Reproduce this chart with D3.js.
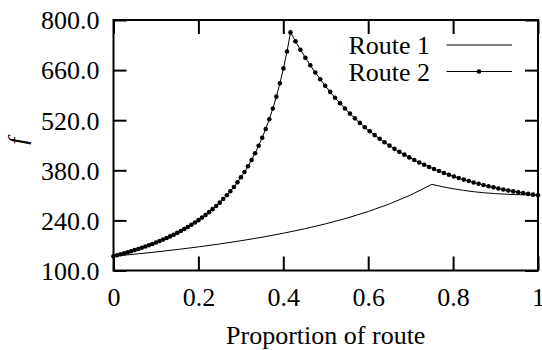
<!DOCTYPE html>
<html>
<head>
<meta charset="utf-8">
<script src="https://cdn.jsdelivr.net/npm/d3@7/dist/d3.min.js"></script>
<style>
  html, body { margin: 0; padding: 0; background: #fff; }
  svg { display: block; }
</style>
</head>
<body>
<svg id="chart" width="542" height="350"></svg>
<script>
// Route 2: sampled on both sides of its peak
const route2X = [
  0, 0.0083, 0.0167, 0.0250, 0.0334, 0.0417, 0.0500, 0.0584, 0.0667, 0.0751,
  0.0834, 0.0917, 0.1001, 0.1084, 0.1168, 0.1251, 0.1334, 0.1418, 0.1501, 0.1585,
  0.1668, 0.1751, 0.1835, 0.1918, 0.2002, 0.2085, 0.2168, 0.2252, 0.2335, 0.2419,
  0.2502, 0.2585, 0.2669, 0.2752, 0.2836, 0.2919, 0.3002, 0.3086, 0.3169, 0.3253,
  0.3336, 0.3419, 0.3503, 0.3586, 0.3670, 0.3753, 0.3836, 0.3920, 0.4003, 0.4087,
  0.4170,
  0.4287, 0.4403, 0.4520, 0.4636, 0.4753, 0.4870, 0.4986, 0.5103, 0.5219, 0.5336,
  0.5453, 0.5569, 0.5686, 0.5802, 0.5919, 0.6036, 0.6152, 0.6269, 0.6385, 0.6502,
  0.6619, 0.6735, 0.6852, 0.6968, 0.7085, 0.7202, 0.7318, 0.7435, 0.7551, 0.7668,
  0.7785, 0.7901, 0.8018, 0.8134, 0.8251, 0.8368, 0.8484, 0.8601, 0.8717, 0.8834,
  0.8951, 0.9067, 0.9184, 0.9300, 0.9417, 0.9534, 0.9650, 0.9767, 0.9883, 1.0
];
const route2Y = [
  140.0, 142.6, 145.3, 148.0, 150.9, 153.9, 157.0, 160.1, 163.5, 166.9,
  170.5, 174.2, 178.1, 182.1, 186.3, 190.7, 195.3, 200.1, 205.1, 210.4,
  215.9, 221.6, 227.7, 234.0, 240.7, 247.8, 255.2, 263.1, 271.4, 280.2,
  289.6, 299.6, 310.1, 321.5, 333.5, 346.5, 360.4, 375.3, 391.4, 408.9,
  427.8, 448.4, 470.9, 495.5, 522.6, 552.5, 585.8, 623.0, 664.7, 711.8,
  765.4,
  740.4, 717.0, 694.7, 673.6, 653.5, 634.5, 616.4, 599.2, 582.8, 567.3,
  552.5, 538.5, 525.2, 512.5, 500.5, 489.1, 478.3, 468.0, 458.2, 448.9,
  440.0, 431.6, 423.7, 416.1, 408.9, 402.0, 395.5, 389.4, 383.5, 377.9,
  372.6, 367.6, 362.8, 358.3, 354.0, 349.9, 346.0, 342.3, 338.8, 335.5,
  332.3, 329.3, 326.4, 323.7, 321.1, 318.7, 316.3, 314.1, 312.0, 310.0
];

// Route 1
const route1X = [
  0, 0.05, 0.10, 0.15, 0.20, 0.25, 0.30, 0.35, 0.40, 0.45, 0.50, 0.55, 0.60, 0.65, 0.70, 0.75,
  0.775, 0.80, 0.825, 0.85, 0.875, 0.90, 0.925, 0.95, 0.975, 1.0
];
const route1Y = [
  139.9, 145.6, 151.8, 158.6, 166.0, 174.1, 183.1, 193.0, 204.1, 216.5, 230.5, 246.4, 264.8, 286.0, 311.0, 340.8,
  334.0, 328.5, 323.8, 320.0, 317.0, 314.8, 313.2, 312.0, 311.2, 310.5
];

const seriesNames = ["Route 1", "Route 2"];
const xTicks = [0, 0.2, 0.4, 0.6, 0.8, 1];
const xTickLabels = ["0", "0.2", "0.4", "0.6", "0.8", "1"];
const yTicks = [100, 240, 380, 520, 660, 800];
const yTickLabels = ["100.0", "240.0", "380.0", "520.0", "660.0", "800.0"];
const xTitle = "Proportion of route";
const yTitle = "f";

const FONT = "Liberation Serif";
const fontSize = 26;

const svg = d3.select("#chart");
const L = 113.5, R = 538, T = 20, B = 270.5;
const x = d3.scaleLinear().domain([0, 1]).range([L, R]);
const y = d3.scaleLinear().domain([100, 800]).range([B, T]);

// Axes with inward ticks on all four sides
const gx = svg.append("g").attr("transform", `translate(0,${B})`)
  .call(d3.axisBottom(x).tickValues(xTicks).tickSize(-14).tickPadding(22)
    .tickFormat((d, i) => xTickLabels[i]));
const gxTop = svg.append("g").attr("transform", `translate(0,${T})`)
  .call(d3.axisTop(x).tickValues(xTicks).tickSize(-14).tickFormat(""));
const gy = svg.append("g").attr("transform", `translate(${L},0)`)
  .call(d3.axisLeft(y).tickValues(yTicks).tickSize(-13).tickPadding(14)
    .tickFormat((d, i) => yTickLabels[i]));
const gyRight = svg.append("g").attr("transform", `translate(${R},0)`)
  .call(d3.axisRight(y).tickValues(yTicks).tickSize(-13).tickFormat(""));

[gx, gxTop, gy, gyRight].forEach(g => {
  g.attr("font-family", null).attr("font-size", null);
  g.select(".domain").remove();
  g.selectAll(".tick line").attr("stroke", "#000").attr("stroke-width", 2);
  g.selectAll("text").attr("fill", "#000")
    .style("font-family", FONT).style("font-size", fontSize + "px");
});
gx.selectAll(".tick text").attr("dy", "0.71em").attr("y", 17);
gy.selectAll(".tick text").attr("dy", "0.34em");

// Frame
svg.append("rect")
  .attr("x", L).attr("y", T).attr("width", R - L).attr("height", B - T)
  .attr("fill", "none").attr("stroke", "#000").attr("stroke-width", 2);

// Titles
svg.append("text")
  .attr("x", (L + R) / 2).attr("y", 344)
  .attr("text-anchor", "middle")
  .style("font-family", FONT).style("font-size", fontSize + "px")
  .text(xTitle);
svg.append("text")
  .attr("transform", `translate(26,${(T + B) / 2 - 4}) rotate(-90)`)
  .attr("text-anchor", "middle")
  .style("font-family", FONT).style("font-size", fontSize + "px").style("font-style", "italic")
  .text(yTitle);

const line = d3.line().x(d => x(d[0])).y(d => y(d[1]));
const r1 = route1X.map((v, i) => [v, route1Y[i]]);
const r2 = route2X.map((v, i) => [v, route2Y[i]]);

svg.append("path").datum(r1)
  .attr("d", line).attr("fill", "none").attr("stroke", "#000").attr("stroke-width", 1);
svg.append("path").datum(r2)
  .attr("d", line).attr("fill", "none").attr("stroke", "#000").attr("stroke-width", 1);
svg.append("g").selectAll("circle").data(r2).join("circle")
  .attr("cx", d => x(d[0])).attr("cy", d => y(d[1])).attr("r", 2.3).attr("fill", "#000");

// Legend
const legend = svg.append("g");
const legendRows = [{ name: seriesNames[0], cy: 45, dot: false }, { name: seriesNames[1], cy: 71.5, dot: true }];
legendRows.forEach(rw => {
  legend.append("text").attr("x", 430).attr("y", rw.cy + 9)
    .attr("text-anchor", "end")
    .style("font-family", FONT).style("font-size", fontSize + "px")
    .text(rw.name);
  legend.append("line").attr("x1", 446.5).attr("x2", 512).attr("y1", rw.cy).attr("y2", rw.cy)
    .attr("stroke", "#000").attr("stroke-width", 1);
  if (rw.dot) legend.append("circle").attr("cx", 479).attr("cy", rw.cy).attr("r", 2.3).attr("fill", "#000");
});
</script>
</body>
</html>
